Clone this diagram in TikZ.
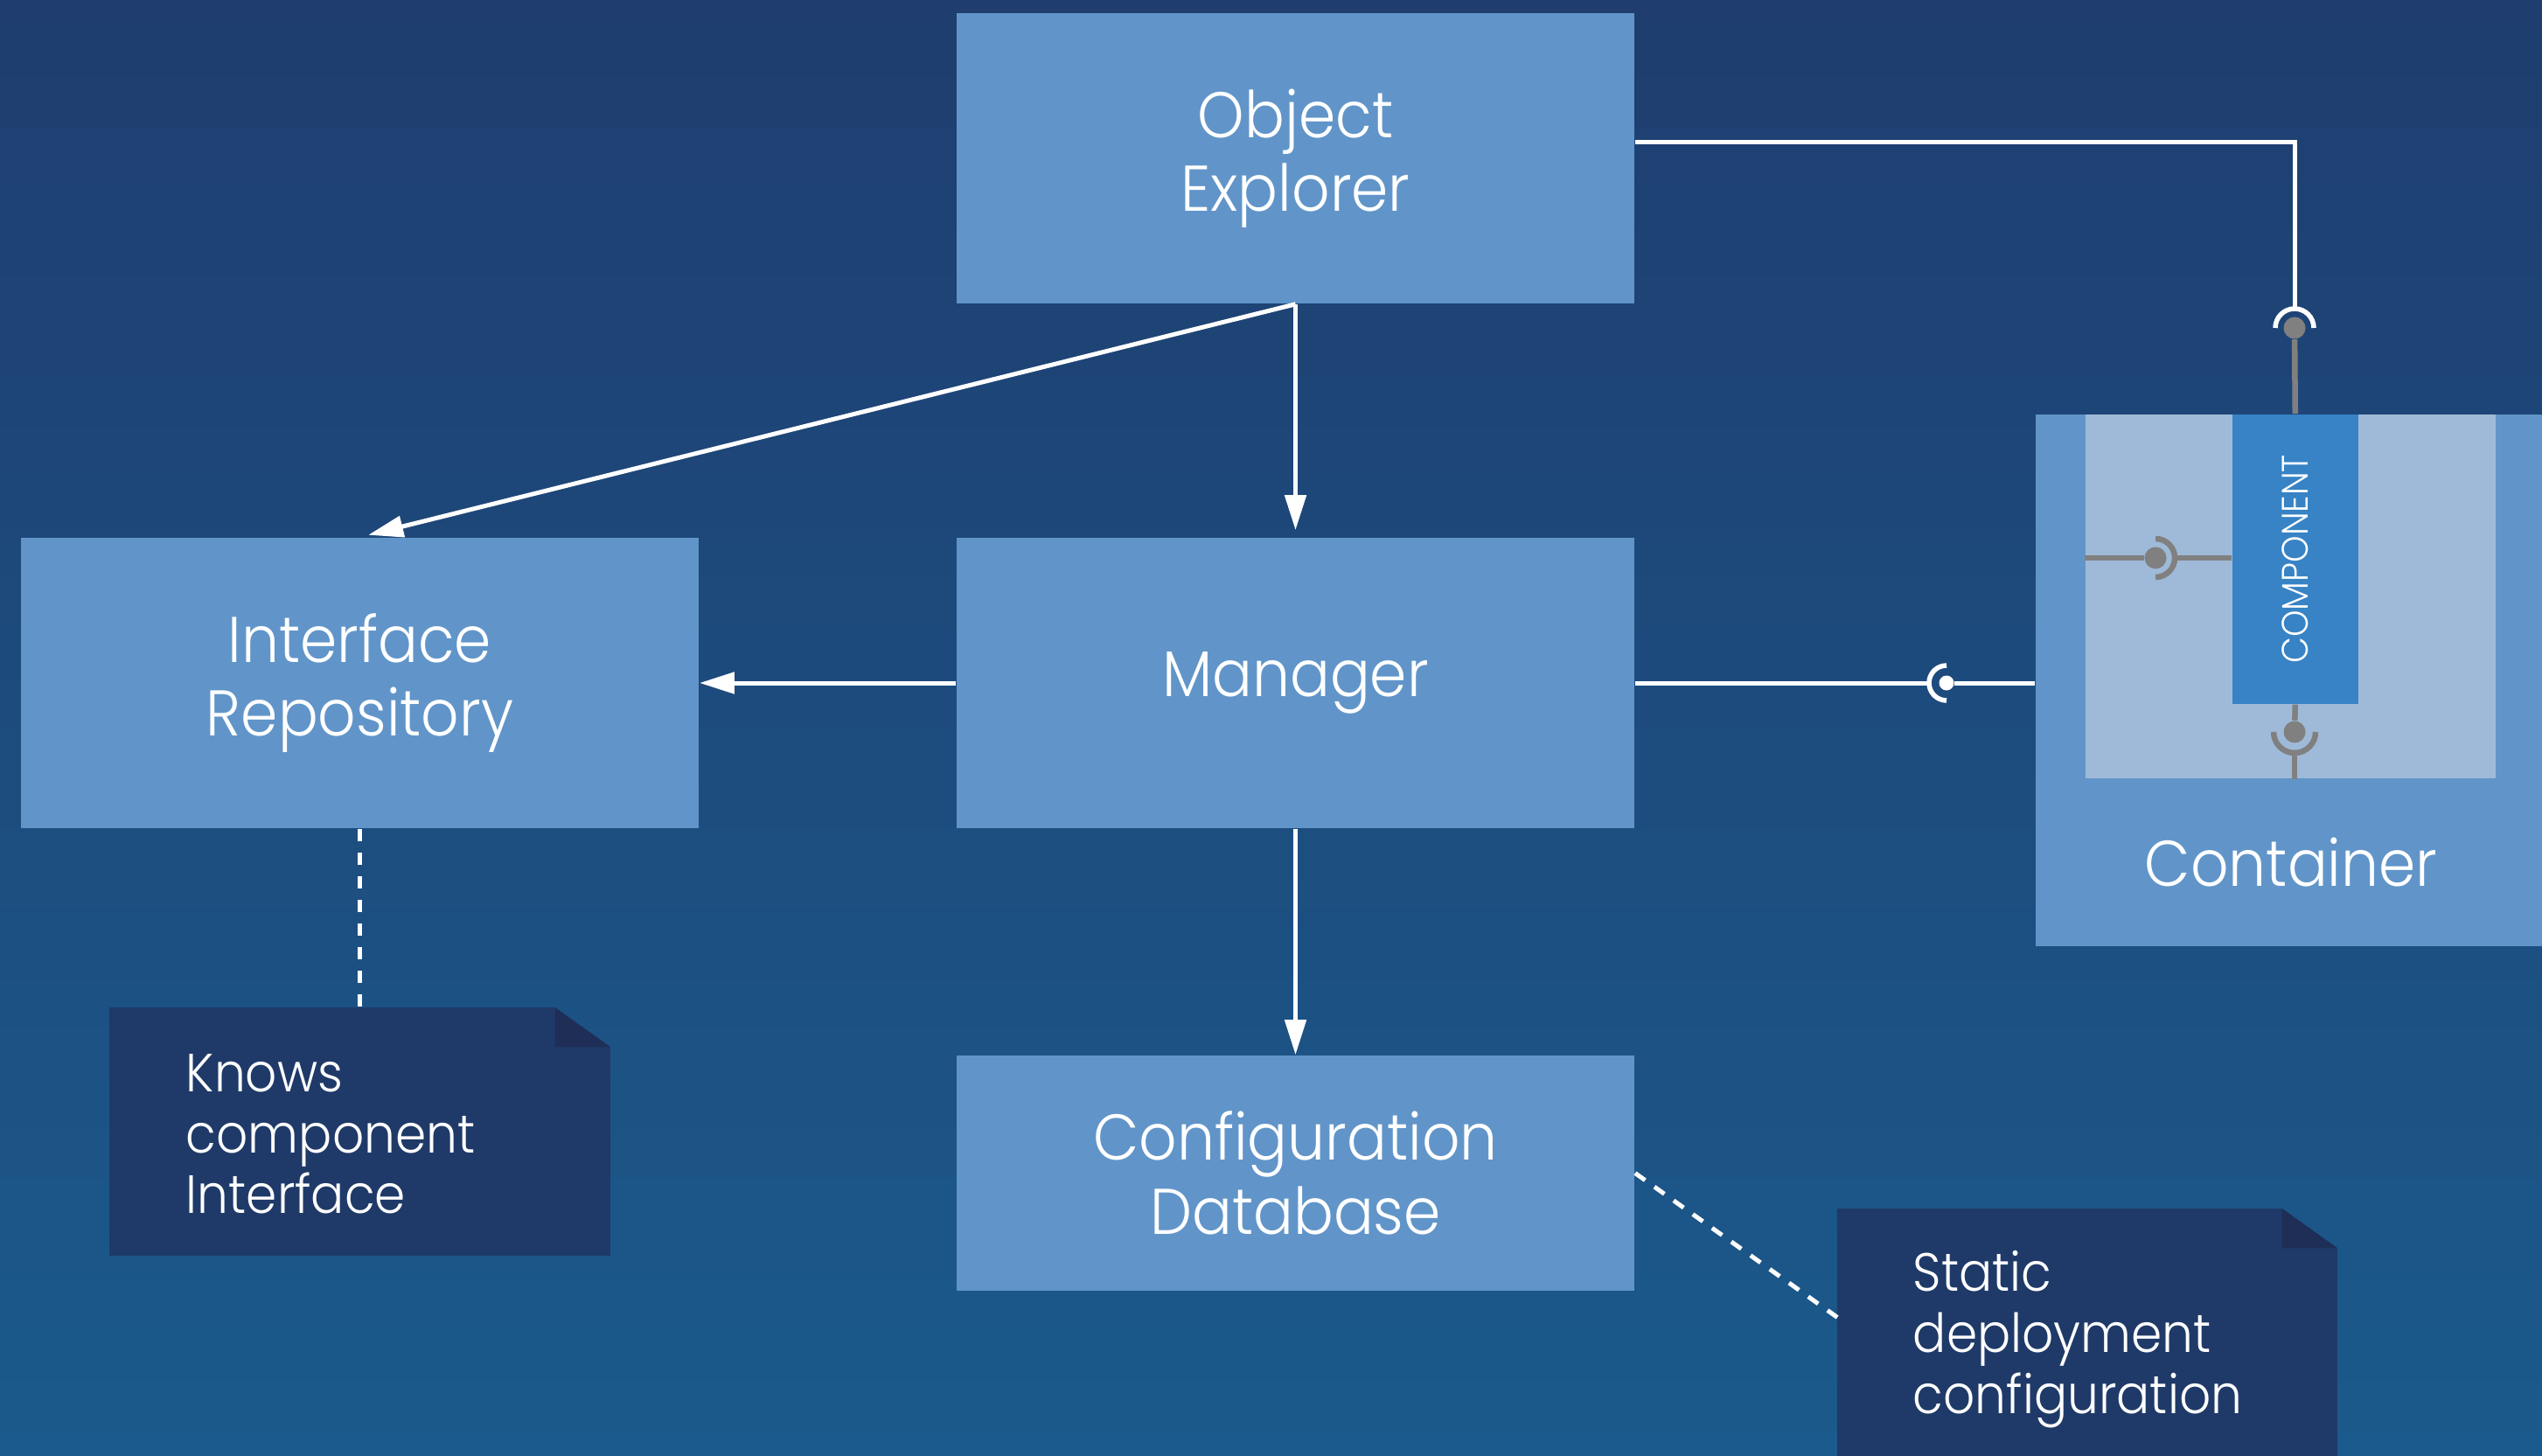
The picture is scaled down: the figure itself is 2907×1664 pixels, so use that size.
\documentclass[tikz,border=0pt]{standalone}
\usepackage{fontspec}
\setmainfont{Poppins}[UprightFont={* Light}, FakeStretch=0.92]
\usetikzlibrary{arrows.meta, positioning}

\definecolor{bgtop}{HTML}{1F3D6F}
\definecolor{bgbot}{HTML}{1B5A8C}
\definecolor{boxblue}{HTML}{6195C9}
\definecolor{innerblue}{HTML}{9FBAD8}
\definecolor{compblue}{HTML}{3783C5}
\definecolor{notefill}{HTML}{1F3A68}
\definecolor{notefold}{HTML}{1E2E57}
\definecolor{plug}{HTML}{808080}

\tikzset{
    box/.style={fill=boxblue, text=white, inner sep=0pt, align=center,
        minimum width=7.75cm, minimum height=3.32cm,
        font=\fontsize{21}{24}\selectfont},
    notetext/.style={anchor=west, inner sep=0pt, align=left, text=white,
        font=\fontsize{17.5}{19.8}\selectfont},
    link/.style={white, line width=0.05cm},
    socket/.style={white, line width=0.055cm},
    plugline/.style={plug, line width=0.065cm},
    plugsocket/.style={plug, line width=0.065cm},
    ball/.style={circle, fill=#1, inner sep=0pt, minimum size=0.25cm},
    dashlink/.style={link, dash pattern=on 0.14cm off 0.13cm}
}

\begin{document}
\begin{tikzpicture}[x=0.01cm, y=-0.01cm, >={Triangle[length=0.4cm, width=0.24cm]}]
    \useasboundingbox (0, 0) rectangle (2907, 1664);
    \shade[top color=bgtop, bottom color=bgbot] (0, 0) rectangle (2907, 1664);

    \node[box] (explorer) at (1481.5, 181) {Object\\Explorer};
    \node[box] (manager) at (1481.5, 781) {Manager};
    \node[box] (repo) at (411.5, 781) {Interface\\Repository};
    \node[box, minimum height=2.69cm] (confdb) at (1481.5, 1341.5) {Configuration\\Database};

    % container with its component
    \node[fill=boxblue, inner sep=0pt, anchor=north west,
        minimum width=6.4cm, minimum height=6.08cm] (container) at (2327, 473) {};
    \node[fill=innerblue, inner sep=0pt, anchor=north west,
        minimum width=4.69cm, minimum height=4.16cm] (inner) at (2384, 473) {};
    \node[fill=compblue, inner sep=0pt, anchor=north west,
        minimum width=1.44cm, minimum height=3.31cm] (comp) at (2552, 473) {};
    \node[rotate=90, text=white, font=\fontsize{12}{12}\selectfont] (complabel) at (comp.center) {COMPONENT};
    \node[text=white, font=\fontsize{21}{24}\selectfont] (contlabel) at (2620, 986) {Container};

    \node[ball=plug] (topball) at (2624, 375) {};
    \node[ball=plug] (leftball) at (2465, 638) {};
    \node[ball=plug] (botball) at (2624, 837) {};
    \node[ball=white, minimum size=0.17cm] (mgrball) at (2226, 781) {};

    \draw[plugline] (comp.north) -- (topball);
    \draw[socket] ([xshift=0.22cm]topball.center) arc[start angle=0, end angle=180, radius=0.22cm];
    \draw[link] ([yshift=0.18cm]explorer.east) -| ([yshift=0.22cm]topball.center);

    \draw[plugline] (leftball -| inner.west) -- (leftball);
    \draw[plugsocket] ([yshift=0.22cm]leftball.center) arc[start angle=90, end angle=-90, radius=0.22cm];
    \draw[plugline] ([xshift=0.22cm]leftball.center) -- (leftball -| comp.west);

    \draw[plugline] (comp.south) -- (botball);
    \draw[plugsocket] ([xshift=-0.24cm]botball.center) arc[start angle=180, end angle=360, radius=0.24cm];
    \draw[plugline] ([yshift=-0.24cm]botball.center) -- (botball |- inner.south);

    \draw[socket] ([yshift=0.2cm]mgrball.center) arc[start angle=90, end angle=270, radius=0.2cm];
    \draw[link] (manager.east) -- ([xshift=-0.2cm]mgrball.center);
    \draw[link] (mgrball) -- (mgrball -| container.west);

    \draw[link, ->, shorten >=0.08cm] (explorer.south) -- (manager.north);
    \draw[link, ->, shorten >=0.1cm] (explorer.south) -- (repo.north);
    \draw[link, ->] (manager.west) -- (repo.east);
    \draw[link, ->] (manager.south) -- (confdb.north);

    % notes
    \node[minimum width=5.71cm, minimum height=2.82cm, inner sep=0pt] (knows) at (411.5, 1294) {};
    \fill[notefill] (knows.north west) -- ([xshift=-0.63cm]knows.north east)
        -- ([yshift=-0.45cm]knows.north east) -- (knows.south east) -- (knows.south west) -- cycle;
    \fill[notefold] ([xshift=-0.63cm]knows.north east) -- ([xshift=-0.63cm, yshift=-0.45cm]knows.north east)
        -- ([yshift=-0.45cm]knows.north east) -- cycle;
    \node[notetext] (knowstext) at ([xshift=0.87cm, yshift=-0.03cm]knows.west) {Knows\\component\\Interface};

    \node[minimum width=5.70cm, minimum height=2.97cm, inner sep=0pt] (deploy) at (2387, 1531.5) {};
    \fill[notefill] (deploy.north west) -- ([xshift=-0.63cm]deploy.north east)
        -- ([yshift=-0.45cm]deploy.north east) -- (deploy.south east) -- (deploy.south west) -- cycle;
    \fill[notefold] ([xshift=-0.63cm]deploy.north east) -- ([xshift=-0.63cm, yshift=-0.45cm]deploy.north east)
        -- ([yshift=-0.45cm]deploy.north east) -- cycle;
    \node[notetext] (deploytext) at ([xshift=0.86cm]deploy.west) {Static\\deployment\\configuration};

    \draw[dashlink] (repo.south) -- (knows.north);
    \draw[dashlink] (confdb.east) -- ([yshift=0.25cm]deploy.west);
\end{tikzpicture}
\end{document}
